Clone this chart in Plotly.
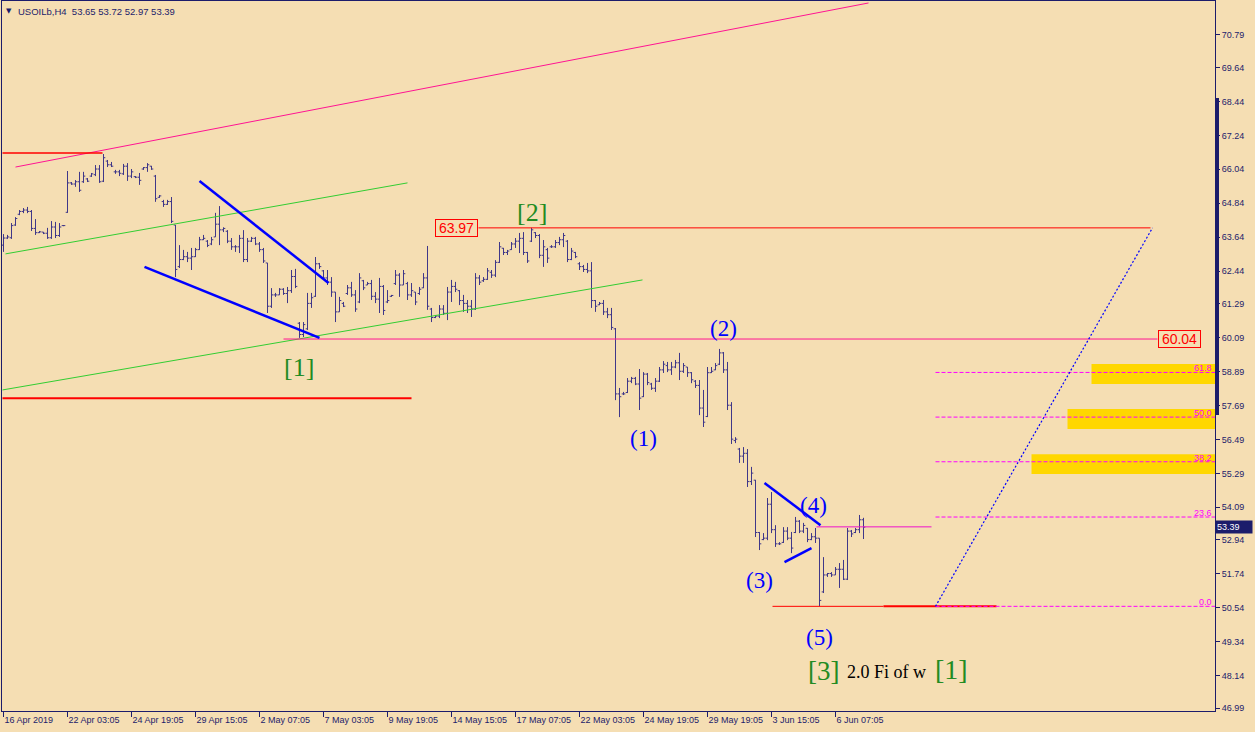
import plotly.graph_objects as go

# ---------------- data ----------------
open_ = [63.36,63.61,63.62,64.07,64.45,64.55,64.60,64.55,63.95,63.80,63.82,63.78,63.62,64.00,63.70,64.05,
         64.52,65.56,65.52,65.60,65.60,65.70,65.80,65.85,66.05,65.62,66.33,66.20,65.95,65.95,65.88,66.15,
         65.80,65.78,65.76,66.05,66.10,66.15,65.80,65.05,64.90,64.80,64.90,64.07,62.60,62.85,62.95,62.90,
         62.95,63.20,63.55,63.50,63.40,63.65,64.10,63.90,63.85,63.50,63.30,63.30,63.60,62.85,63.50,63.60,
         63.40,63.20,62.73,61.20,61.60,61.60,61.80,61.65,61.75,62.25,60.60,60.20,60.40,61.30,61.55,62.70,
         62.45,62.20,62.05,61.70,61.00,61.30,61.65,61.85,61.60,61.35,62.10,61.95,62.00,61.55,61.45,61.90,
         61.35,61.55,62.00,62.30,61.95,62.00,61.60,61.70,61.65,61.85,62.20,61.10,60.80,60.85,61.10,60.95,
         61.70,61.90,61.75,61.40,61.30,61.20,61.10,62.20,62.10,62.15,62.40,62.30,62.75,63.25,63.10,63.20,
         63.40,63.50,63.60,63.10,63.50,63.80,63.70,63.00,63.20,63.30,63.30,63.45,63.55,63.50,62.85,63.10,
         62.70,62.60,62.50,62.45,61.40,61.25,61.30,61.00,60.90,60.40,58.10,58.10,58.15,58.55,58.65,58.45,
         58.00,58.80,58.45,58.30,58.55,58.95,59.10,58.95,59.05,59.20,58.90,59.05,58.85,58.55,58.40,57.60,
         57.30,58.85,58.95,59.15,59.55,58.95,57.70,56.45,56.15,55.90,56.00,55.00,55.05,53.20,52.95,53.00,
         54.20,53.30,52.80,52.85,53.25,53.00,53.20,53.60,53.25,53.35,52.95,53.05,53.00,51.10,51.70,51.75,
         51.70,51.90,51.90,51.55,53.25,53.20,53.30,53.65]
high = [63.75,63.72,64.14,64.35,64.60,64.67,64.71,64.60,64.28,63.86,63.82,63.97,64.21,64.18,64.14,64.07,
        65.98,65.59,65.66,65.95,65.95,65.73,65.91,66.19,66.19,66.58,66.37,66.30,66.02,66.02,66.23,66.26,
        66.05,65.80,65.91,66.12,66.26,66.16,65.84,65.13,64.96,64.96,65.06,64.07,63.36,63.19,63.12,63.26,
        63.26,63.65,63.72,63.54,63.65,64.50,64.74,63.99,63.89,63.61,63.36,63.72,63.89,63.61,63.65,63.65,
        63.47,63.26,62.73,61.84,61.67,61.84,61.84,61.88,62.48,62.52,60.64,60.64,61.67,61.67,62.94,62.73,
        62.48,62.48,62.23,61.70,61.53,61.35,61.95,62.06,61.77,62.37,62.13,62.06,62.13,61.70,62.20,61.95,
        61.77,61.60,62.48,62.37,62.48,62.06,62.02,61.70,61.88,62.37,63.33,61.14,60.89,61.24,61.24,61.88,
        62.13,62.06,61.77,61.60,61.42,61.42,62.37,62.30,62.23,62.55,62.48,62.83,63.47,63.26,63.19,63.47,
        63.61,63.79,63.82,63.12,63.97,63.82,63.75,63.54,63.26,63.36,63.54,63.65,63.79,63.54,63.26,63.12,
        62.76,62.66,62.73,62.76,61.42,61.35,61.42,61.14,61.14,60.43,58.31,58.17,58.66,58.70,58.70,58.98,
        58.87,58.84,58.49,58.66,59.05,59.26,59.23,59.23,59.30,59.55,59.19,59.05,58.87,58.59,58.59,58.24,
        59.05,59.05,59.19,59.69,59.58,59.23,57.81,56.57,56.19,56.22,56.15,55.52,55.06,53.22,53.18,54.42,
        54.63,53.46,52.86,53.39,53.39,53.22,53.75,53.64,53.54,53.36,53.18,53.36,53.00,52.33,51.77,51.80,
        51.98,52.12,52.23,53.36,53.29,53.36,53.82,53.72]
low = [63.12,63.58,63.58,64.04,64.42,64.49,64.49,63.86,63.72,63.79,63.75,63.58,63.58,63.61,63.65,64.03,
       64.50,65.49,65.42,65.24,65.56,65.59,65.77,65.80,65.56,65.59,66.12,66.12,65.88,65.80,65.84,65.63,
       65.73,65.73,65.49,66.02,65.95,66.02,64.89,65.03,64.71,64.78,64.14,62.23,62.55,62.83,62.76,62.48,
       62.94,63.19,63.54,63.29,63.36,63.65,63.36,63.82,63.43,63.19,63.12,63.08,62.76,62.76,63.47,63.36,
       63.12,62.73,60.96,61.14,61.53,61.60,61.60,61.31,61.67,61.84,60.08,60.11,60.36,61.14,61.53,62.52,
       62.13,61.95,61.53,60.64,61.00,61.17,61.60,61.53,61.00,61.31,61.77,61.95,61.42,61.31,60.96,60.89,
       61.31,61.53,61.95,61.53,61.95,61.42,61.53,61.24,61.60,61.84,61.07,60.64,60.78,60.78,60.89,60.71,
       61.35,61.70,61.24,61.00,60.96,60.82,61.07,61.95,62.06,62.13,62.20,62.23,62.73,63.01,63.01,63.19,
       63.26,63.08,63.01,62.73,63.47,63.61,62.90,62.59,62.73,63.26,63.26,63.36,63.29,62.76,62.83,62.90,
       62.48,62.41,62.37,61.14,61.00,61.24,60.89,60.78,60.36,57.88,57.28,58.06,58.13,58.48,58.41,57.53,
       57.99,58.41,58.24,58.17,58.52,58.84,58.87,58.77,59.01,58.59,58.84,58.70,58.48,58.31,57.35,56.93,
       57.28,58.84,58.94,59.12,58.84,57.53,56.33,56.36,55.66,55.66,54.81,54.88,53.04,52.58,52.93,52.93,
       53.18,52.69,52.76,52.83,52.93,52.47,53.18,53.18,53.18,52.86,52.93,52.83,50.59,51.06,51.63,51.63,
       51.70,51.24,51.52,51.52,53.04,53.18,53.18,52.97]
close = [63.61,63.65,64.05,64.30,64.55,64.60,64.55,63.95,63.80,63.83,63.78,63.62,64.00,63.70,64.00,64.05,
         65.56,65.52,65.60,65.30,65.80,65.62,65.88,66.05,65.60,66.45,66.20,66.15,65.95,65.90,66.15,65.80,
         65.95,65.76,65.65,66.10,66.20,66.05,65.00,65.10,64.80,64.90,64.20,62.50,62.85,62.95,62.90,62.95,
         63.20,63.55,63.60,63.35,63.55,64.10,63.90,63.95,63.50,63.30,63.30,63.60,62.85,63.50,63.60,63.40,
         63.20,62.80,61.20,61.60,61.60,61.80,61.65,61.75,62.25,61.90,60.20,60.55,61.30,61.50,62.70,62.60,
         62.20,62.05,61.70,61.00,61.40,61.20,61.85,61.60,61.10,62.20,61.85,62.00,61.55,61.45,61.90,61.05,
         61.40,61.58,62.30,61.95,62.35,61.60,61.75,61.35,61.80,62.20,61.20,60.80,60.85,61.10,60.95,61.70,
         61.90,61.80,61.40,61.30,61.20,61.10,62.20,62.05,62.15,62.45,62.30,62.75,63.30,63.10,63.15,63.40,
         63.50,63.60,63.10,62.80,63.90,63.70,63.00,63.30,62.90,63.30,63.45,63.55,63.70,62.85,63.15,62.95,
         62.60,62.50,62.45,61.40,61.20,61.30,61.00,60.90,60.45,58.10,58.00,58.10,58.55,58.65,58.45,57.95,
         58.80,58.50,58.30,58.55,58.95,59.15,58.95,59.05,59.20,58.90,59.10,58.85,58.60,58.40,57.60,57.10,
         58.85,58.90,59.10,59.55,58.95,57.70,56.50,56.50,55.90,56.00,55.00,55.30,53.20,52.80,53.00,54.20,
         53.30,52.80,52.80,53.25,53.00,52.65,53.60,53.25,53.45,52.95,53.05,53.00,50.80,51.70,51.75,51.70,
         51.90,51.90,51.55,53.25,53.15,53.30,53.65,53.39]

x_tick_bars = [0, 16, 32, 48, 64, 80, 96, 112, 128, 144, 160, 176, 192, 208]
x_tick_labels = ["16 Apr 2019", "22 Apr 03:05", "24 Apr 19:05", "29 Apr 15:05", "2 May 07:05",
                 "7 May 03:05", "9 May 19:05", "14 May 15:05", "17 May 07:05", "22 May 03:05",
                 "24 May 19:05", "29 May 19:05", "3 Jun 15:05", "6 Jun 07:05"]
y_tick_values = [70.79, 69.64, 68.44, 67.24, 66.04, 64.84, 63.64, 62.44, 61.29, 60.09, 58.89,
                 57.69, 56.49, 55.29, 54.09, 52.94, 51.74, 50.54, 49.34, 48.14, 46.99]

fib_high = 63.97
fib_low = 50.59
fib_levels = [0.0, 23.6, 38.2, 50.0, 61.8]
last_price = 53.39
level_2044 = 60.04

# ---------------- style ----------------
BG = "#F5DEB3"
NAVY = "#1C1C6B"
BAR = "#3F3789"
GREEN_T = "#228B22"
BLUE = "#0000FF"
RED = "#FF0000"
PINK = "#FF1493"
MAG = "#FF00FF"
LIME = "#32CD32"
GOLD = "#FFD700"
SANS = "Liberation Sans"
SERIF = "Liberation Serif"

idx = list(range(len(open_)))

fig = go.Figure()
fig.add_trace(go.Ohlc(
    x=idx, open=open_, high=high, low=low, close=close,
    increasing=dict(line=dict(color=BAR, width=1)),
    decreasing=dict(line=dict(color=BAR, width=1)),
    tickwidth=0.45, hoverinfo="skip", showlegend=False))

shapes = []


def seg(x0, y0, x1, y1, color, width=1, dash="solid", layer="above"):
    shapes.append(dict(type="line", xref="x", yref="y", x0=x0, y0=y0, x1=x1, y1=y1,
                       line=dict(color=color, width=width, dash=dash), layer=layer))


# fib boxes (gold)
for xs, y0, y1 in [(272.0, 59.16, 58.45), (266.0, 57.57, 56.86), (257.0, 55.97, 55.27)]:
    shapes.append(dict(type="rect", xref="x", yref="y", x0=xs, x1=303.0, y0=y0, y1=y1,
                       fillcolor=GOLD, line=dict(width=0), layer="below"))

# channels
seg(3.0, 66.12, 216.25, 71.92, PINK, 1)
seg(0.5, 63.05, 101.0, 65.56, LIME, 1)
seg(-0.25, 58.24, 159.75, 62.13, LIME, 1)
# red levels
seg(-0.25, 66.62, 24.75, 66.62, RED, 1.5)
seg(-0.25, 57.95, 102.0, 57.95, RED, 2)
seg(118.75, fib_high, 286.75, fib_high, RED, 1)
seg(70.0, level_2044, 288.5, level_2044, PINK, 1)
seg(192.25, fib_low, 220.0, fib_low, RED, 1)
seg(220.0, fib_low, 248.25, fib_low, RED, 2)
seg(203.25, 53.40, 232.0, 53.40, "#EE11CC", 1)
# wedges
seg(49.0, 65.63, 81.25, 62.02, BLUE, 2.5)
seg(35.25, 62.59, 79.0, 60.08, BLUE, 2.5)
seg(190.25, 54.95, 204.25, 53.46, BLUE, 2.5)
seg(195.25, 52.15, 202.0, 52.65, BLUE, 2.5)
# fib levels
for lv in fib_levels:
    yv = fib_low + (fib_high - fib_low) * lv / 100.0
    seg(233.0, yv, 303.0, yv, MAG, 1, "4px,2px")
# dotted projection
seg(233.0, fib_low, 287.25, fib_high, BLUE, 1.2, "2px,2px")
# thick navy marker at right edge
shapes.append(dict(type="rect", xref="paper", yref="y", x0=1.0, x1=1.0033, y0=68.56, y1=57.35,
                   fillcolor=NAVY, line=dict(width=0)))

ann = []


def txt(x, y, s, color, size, font=SERIF, **kw):
    d = dict(x=x, y=y, xref="x", yref="y", text=s, showarrow=False,
             font=dict(family=font, size=size, color=color))
    d.update(kw)
    ann.append(d)


txt(132.0, 64.53, "[2]", GREEN_T, 26)
txt(73.75, 59.02, "[1]", GREEN_T, 26)
txt(180.0, 60.43, "(2)", BLUE, 23)
txt(160.0, 56.54, "(1)", BLUE, 23)
txt(202.5, 54.17, "(4)", BLUE, 23)
txt(189.0, 51.52, "(3)", BLUE, 23)
txt(204.0, 49.50, "(5)", BLUE, 23)
txt(205.0, 48.30, "[3]", GREEN_T, 27)
txt(220.75, 48.27, "2.0 Fi of w", "#000000", 18)
txt(237.0, 48.34, "[1]", GREEN_T, 28)

txt(118.5, fib_high, f"{fib_high:.2f}", RED, 14, font=SANS, xanchor="right",
    bordercolor=RED, borderwidth=1, borderpad=0, bgcolor=BG, width=41, height=16)
txt(288.5, level_2044, f"{level_2044:.2f}", RED, 14, font=SANS, xanchor="left",
    bordercolor=RED, borderwidth=1, borderpad=0, bgcolor=BG, width=41, height=16)

for lv in fib_levels:
    yv = fib_low + (fib_high - fib_low) * lv / 100.0
    ann.append(dict(x=1.0, y=yv, xref="paper", yref="y", text=f"{lv:.1f}", showarrow=False,
                    xanchor="right", yanchor="bottom", xshift=-1, yshift=-3,
                    font=dict(family=SANS, size=9, color=MAG)))

# current price label
ann.append(dict(x=1.0, y=last_price, xref="paper", yref="y", text=f"{last_price:.2f}", showarrow=False,
                xanchor="left", xshift=0, bgcolor=NAVY, borderpad=1, width=34, align="left",
                font=dict(family=SANS, size=9, color="#FFFFFF")))

# header
ann.append(dict(x=0, y=1, xref="paper", yref="paper", text="▼", showarrow=False,
                xanchor="left", yanchor="top", xshift=2, yshift=-4,
                font=dict(family="DejaVu Sans", size=7, color=NAVY)))
ann.append(dict(x=0, y=1, xref="paper", yref="paper",
                text="USOILb,H4\u00a0\u00a053.65 53.72 52.97 53.39", showarrow=False,
                xanchor="left", yanchor="top", xshift=14, yshift=-3,
                font=dict(family=SANS, size=9.5, color=NAVY)))

fig.update_layout(
    width=1255, height=732,
    margin=dict(l=2, r=40, t=1, b=21),
    paper_bgcolor=BG, plot_bgcolor=BG,
    shapes=shapes, annotations=ann,
    showlegend=False, hovermode=False,
    xaxis=dict(range=[-0.375, 302.875], rangeslider=dict(visible=False),
               tickvals=x_tick_bars, ticktext=x_tick_labels,
               ticklabelposition="outside right",
               ticks="outside", ticklen=5, tickcolor=NAVY,
               tickfont=dict(family=SANS, size=9, color=NAVY),
               showline=True, linecolor=NAVY, linewidth=1, mirror=True,
               showgrid=False, zeroline=False, fixedrange=True),
    yaxis=dict(range=[46.89, 71.99], side="right",
               tickvals=y_tick_values, ticktext=[f"{v:.2f}" for v in y_tick_values],
               ticks="outside", ticklen=4, tickcolor=NAVY,
               tickfont=dict(family=SANS, size=9, color=NAVY),
               showline=True, linecolor=NAVY, linewidth=1, mirror=True,
               showgrid=False, zeroline=False, fixedrange=True),
)

fig.write_html("out.html", config={"displayModeBar": False},
               post_script="document.body.style.margin='0px';document.body.style.overflow='hidden';")
